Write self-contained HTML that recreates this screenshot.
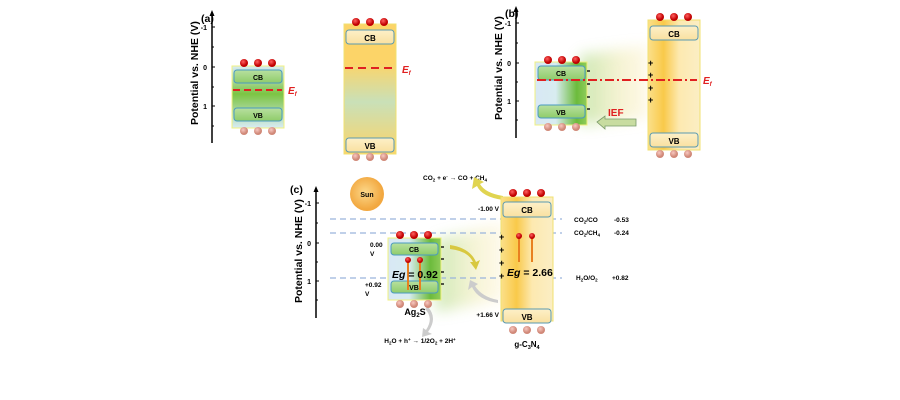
<!DOCTYPE html>
<html><head><meta charset="utf-8"><style>
html,body{margin:0;padding:0;background:#fff;width:900px;height:400px;overflow:hidden}
svg text{font-family:"Liberation Sans",Arial,sans-serif;font-weight:bold}
</style></head><body>
<svg width="900" height="400" viewBox="0 0 900 400" xmlns="http://www.w3.org/2000/svg">
<defs>
<filter id="blur" x="-30%" y="-30%" width="160%" height="160%"><feGaussianBlur stdDeviation="7"/></filter>
<linearGradient id="gA" x1="0" y1="0" x2="0" y2="1">
<stop offset="0" stop-color="#d8ecf5"/><stop offset="0.45" stop-color="#7cc443"/><stop offset="1" stop-color="#d8ecf5"/></linearGradient>
<linearGradient id="yA" x1="0" y1="0" x2="0" y2="1">
<stop offset="0" stop-color="#fcd468"/><stop offset="0.3" stop-color="#fcd468"/><stop offset="0.6" stop-color="#c9e0b8"/><stop offset="1" stop-color="#fcd468"/></linearGradient>
<linearGradient id="gB" x1="0" y1="0" x2="1" y2="0">
<stop offset="0" stop-color="#d8e8f5"/><stop offset="0.4" stop-color="#d8ecf0"/><stop offset="0.8" stop-color="#6cbb3c"/><stop offset="1" stop-color="#8fcc5a"/></linearGradient>
<linearGradient id="yB" x1="0" y1="0" x2="1" y2="0">
<stop offset="0" stop-color="#fbe08a"/><stop offset="0.3" stop-color="#f9c94a"/><stop offset="0.6" stop-color="#fde9b0"/><stop offset="1" stop-color="#fbeec4"/></linearGradient>
<linearGradient id="glow" x1="0" y1="0" x2="1" y2="0">
<stop offset="0" stop-color="#8fcc5a" stop-opacity="0.8"/><stop offset="0.6" stop-color="#e8e08a" stop-opacity="0.6"/><stop offset="1" stop-color="#fbe08a" stop-opacity="0.3"/></linearGradient>
<linearGradient id="cbg" x1="0" y1="0" x2="0" y2="1"><stop offset="0" stop-color="#b8e0a0"/><stop offset="1" stop-color="#8fcc6a"/></linearGradient>
<linearGradient id="cby" x1="0" y1="0" x2="0" y2="1"><stop offset="0" stop-color="#fdf0c8"/><stop offset="1" stop-color="#f9e0a0"/></linearGradient>
<radialGradient id="red" cx="0.4" cy="0.35"><stop offset="0" stop-color="#ff6060"/><stop offset="1" stop-color="#c00000"/></radialGradient>
<radialGradient id="pink" cx="0.4" cy="0.35"><stop offset="0" stop-color="#f8c8c0"/><stop offset="1" stop-color="#d08878"/></radialGradient>
<radialGradient id="sun" cx="0.45" cy="0.45"><stop offset="0" stop-color="#fcd88a"/><stop offset="1" stop-color="#f2a840"/></radialGradient>
</defs>

<!-- Panel a -->
<line x1="212" y1="143" x2="212" y2="14" stroke="#000" stroke-width="1.5"/><polygon points="212,10 209.5,16 214.5,16"/>
<g stroke="#000"><line x1="212" y1="27" x2="215" y2="27"/><line x1="212" y1="47" x2="214" y2="47"/><line x1="212" y1="67" x2="215" y2="67"/><line x1="212" y1="87" x2="214" y2="87"/><line x1="212" y1="106" x2="215" y2="106"/><line x1="212" y1="126" x2="214" y2="126"/></g>
<text x="207" y="30" font-size="7" text-anchor="end">-1</text><text x="207" y="70" font-size="7" text-anchor="end">0</text><text x="207" y="109" font-size="7" text-anchor="end">1</text>
<text transform="translate(198,125) rotate(-90)" font-size="10.5">Potential vs. NHE (V)</text>
<text x="201" y="22" font-size="10.5">(a)</text>
<rect x="232" y="66" width="52" height="62" fill="url(#gA)" stroke="#f0f080" stroke-width="1"/>
<rect x="234" y="70" width="48" height="13" rx="3" fill="url(#cbg)" stroke="#4a9ac0"/><text x="258" y="80" font-size="7" text-anchor="middle">CB</text>
<rect x="234" y="108" width="48" height="13" rx="3" fill="url(#cbg)" stroke="#4a9ac0"/><text x="258" y="118" font-size="7" text-anchor="middle">VB</text>
<line x1="233" y1="90" x2="282" y2="90" stroke="#e02020" stroke-width="2" stroke-dasharray="7,4"/>
<text x="288" y="94" font-size="10" fill="#e02020" font-style="italic">E<tspan font-size="6" dy="2">f</tspan></text>
<g fill="url(#red)"><circle cx="244" cy="63" r="4"/><circle cx="258" cy="63" r="4"/><circle cx="272" cy="63" r="4"/></g>
<g fill="url(#pink)"><circle cx="244" cy="131" r="4"/><circle cx="258" cy="131" r="4"/><circle cx="272" cy="131" r="4"/></g>

<rect x="344" y="24" width="52" height="130" fill="url(#yA)" stroke="#f0e070"/>
<rect x="346" y="30" width="48" height="14" rx="3" fill="url(#cby)" stroke="#5a9ab0"/><text x="370" y="41" font-size="8" text-anchor="middle">CB</text>
<rect x="346" y="138" width="48" height="14" rx="3" fill="url(#cby)" stroke="#5a9ab0"/><text x="370" y="149" font-size="8" text-anchor="middle">VB</text>
<line x1="345" y1="68" x2="395" y2="68" stroke="#e02020" stroke-width="2" stroke-dasharray="8,5"/>
<text x="402" y="73" font-size="10" fill="#e02020" font-style="italic">E<tspan font-size="6" dy="2">f</tspan></text>
<g fill="url(#red)"><circle cx="356" cy="22" r="4"/><circle cx="370" cy="22" r="4"/><circle cx="384" cy="22" r="4"/></g>
<g fill="url(#pink)"><circle cx="356" cy="157" r="4"/><circle cx="370" cy="157" r="4"/><circle cx="384" cy="157" r="4"/></g>

<!-- Panel b -->
<polygon points="580,55 650,45 650,118 580,125" fill="url(#glow)" opacity="0.6" filter="url(#blur)"/>
<line x1="516" y1="138" x2="516" y2="10" stroke="#000" stroke-width="1.5"/><polygon points="516,6 513.5,12 518.5,12"/>
<g stroke="#000"><line x1="516" y1="23" x2="519" y2="23"/><line x1="516" y1="43" x2="518" y2="43"/><line x1="516" y1="63" x2="519" y2="63"/><line x1="516" y1="82" x2="518" y2="82"/><line x1="516" y1="101" x2="519" y2="101"/><line x1="516" y1="120" x2="518" y2="120"/></g>
<text x="511" y="26" font-size="7" text-anchor="end">-1</text><text x="511" y="66" font-size="7" text-anchor="end">0</text><text x="511" y="104" font-size="7" text-anchor="end">1</text>
<text transform="translate(502,120) rotate(-90)" font-size="10.5">Potential vs. NHE (V)</text>
<text x="505" y="17" font-size="10.5">(b)</text>
<rect x="535" y="62" width="52" height="63" fill="url(#gB)" stroke="#f0f080"/>
<rect x="538" y="66" width="47" height="14" rx="3" fill="url(#cbg)" stroke="#4a9ac0"/><text x="561" y="76" font-size="7" text-anchor="middle">CB</text>
<rect x="538" y="105" width="47" height="13" rx="3" fill="url(#cbg)" stroke="#4a9ac0"/><text x="561" y="115" font-size="7" text-anchor="middle">VB</text>
<g fill="url(#red)"><circle cx="548" cy="60" r="4"/><circle cx="562" cy="60" r="4"/><circle cx="576" cy="60" r="4"/></g>
<g fill="url(#pink)"><circle cx="548" cy="127" r="4"/><circle cx="562" cy="127" r="4"/><circle cx="576" cy="127" r="4"/></g>
<g stroke="#000" stroke-width="1.3"><line x1="587" y1="71" x2="590" y2="71"/><line x1="587" y1="84" x2="590" y2="84"/><line x1="587" y1="97" x2="590" y2="97"/><line x1="587" y1="109" x2="590" y2="109"/></g>
<rect x="648" y="20" width="52" height="130" fill="url(#yB)" stroke="#f0e070"/>
<rect x="650" y="26" width="48" height="14" rx="3" fill="url(#cby)" stroke="#5a9ab0"/><text x="674" y="37" font-size="8" text-anchor="middle">CB</text>
<rect x="650" y="133" width="48" height="14" rx="3" fill="url(#cby)" stroke="#5a9ab0"/><text x="674" y="144" font-size="8" text-anchor="middle">VB</text>
<g fill="url(#red)"><circle cx="660" cy="17" r="4"/><circle cx="674" cy="17" r="4"/><circle cx="688" cy="17" r="4"/></g>
<g fill="url(#pink)"><circle cx="660" cy="154" r="4"/><circle cx="674" cy="154" r="4"/><circle cx="688" cy="154" r="4"/></g>
<g font-size="9" font-weight="bold"><text x="648" y="66">+</text><text x="648" y="78">+</text><text x="648" y="91">+</text><text x="648" y="103">+</text></g>
<line x1="537" y1="80" x2="697" y2="80" stroke="#e02020" stroke-width="2" stroke-dasharray="9,3,2,3"/>
<text x="703" y="84" font-size="10" fill="#e02020" font-style="italic">E<tspan font-size="6" dy="2">f</tspan></text>
<text x="608" y="116" font-size="10" fill="#e02020">IEF</text>
<polygon points="597,122 605,116 605,119 636,119 636,126 605,126 605,129" fill="#c8dca0" stroke="#7a9a6a" stroke-width="0.8"/>

<!-- Panel c -->
<polygon points="436,240 505,222 505,300 436,312" fill="url(#glow)" opacity="0.55" filter="url(#blur)"/>
<line x1="316" y1="318" x2="316" y2="190" stroke="#000" stroke-width="1.5"/><polygon points="316,186 313.5,192 318.5,192"/>
<g stroke="#000"><line x1="316" y1="203" x2="319" y2="203"/><line x1="316" y1="223" x2="318" y2="223"/><line x1="316" y1="243" x2="319" y2="243"/><line x1="316" y1="262" x2="318" y2="262"/><line x1="316" y1="281" x2="319" y2="281"/><line x1="316" y1="300" x2="318" y2="300"/></g>
<text x="311" y="206" font-size="7" text-anchor="end">-1</text><text x="311" y="246" font-size="7" text-anchor="end">0</text><text x="311" y="284" font-size="7" text-anchor="end">1</text>
<text transform="translate(302,303) rotate(-90)" font-size="10.5">Potential vs. NHE (V)</text>
<text x="290" y="193" font-size="10.5">(c)</text>
<circle cx="367" cy="194" r="17" fill="url(#sun)"/><text x="367" y="197" font-size="7" text-anchor="middle">Sun</text>
<g stroke="#9ab4dc" stroke-width="1.2" stroke-dasharray="6,4"><line x1="330" y1="219" x2="562" y2="219"/><line x1="330" y1="233" x2="562" y2="233"/><line x1="330" y1="278" x2="562" y2="278"/></g>
<g font-size="6.5">
<text x="574" y="222">CO<tspan font-size="4.5" dy="1.5">2</tspan><tspan dy="-1.5">/CO</tspan></text><text x="614" y="222">-0.53</text>
<text x="574" y="235">CO<tspan font-size="4.5" dy="1.5">2</tspan><tspan dy="-1.5">/CH</tspan><tspan font-size="4.5" dy="1.5">4</tspan></text><text x="614" y="235">-0.24</text>
<text x="576" y="280">H<tspan font-size="4.5" dy="1.5">2</tspan><tspan dy="-1.5">O/O</tspan><tspan font-size="4.5" dy="1.5">2</tspan></text><text x="612" y="280">+0.82</text></g>
<text x="455" y="180" font-size="6.5" text-anchor="middle">CO<tspan font-size="4.5" dy="1.5">2</tspan><tspan dy="-1.5"> + e</tspan><tspan font-size="4.5" dy="-2">-</tspan><tspan dy="2"> → CO + CH</tspan><tspan font-size="4.5" dy="1.5">4</tspan></text>
<text x="420" y="343" font-size="6.5" text-anchor="middle">H<tspan font-size="4.5" dy="1.5">2</tspan><tspan dy="-1.5">O + h</tspan><tspan font-size="4.5" dy="-2">+</tspan><tspan dy="2"> → 1/2O</tspan><tspan font-size="4.5" dy="1.5">2</tspan><tspan dy="-1.5"> + 2H</tspan><tspan font-size="4.5" dy="-2">+</tspan></text>
<!-- curved arrows -->
<path d="M503,200 Q482,197 477,186 L472,189 L474,177 L484,182 L480,184 Q485,193 503,196Z" fill="#e0d450"/>
<path d="M450,245 Q470,248 476,262 L480,260 L476,270 L470,262 L473,262 Q468,251 450,249Z" fill="#d8c840"/>
<path d="M498,303 Q478,300 472,287 L468,290 L470,280 L478,284 L475,286 Q482,297 498,300Z" fill="#cccccc"/>
<path d="M428,307 Q438,318 428,332 L432,334 L422,337 L423,328 L426,330 Q434,318 425,309Z" fill="#cccccc"/>
<rect x="388" y="238" width="53" height="62" fill="url(#gB)" stroke="#f0f080"/>
<rect x="391" y="243" width="47" height="12" rx="3" fill="url(#cbg)" stroke="#4a9ac0"/><text x="414" y="252" font-size="7" text-anchor="middle">CB</text>
<rect x="391" y="281" width="47" height="12" rx="3" fill="url(#cbg)" stroke="#4a9ac0"/><text x="414" y="290" font-size="7" text-anchor="middle">VB</text>
<g fill="url(#red)"><circle cx="400" cy="235" r="4"/><circle cx="414" cy="235" r="4"/><circle cx="428" cy="235" r="4"/></g>
<g fill="url(#pink)"><circle cx="400" cy="304" r="4"/><circle cx="414" cy="304" r="4"/><circle cx="428" cy="304" r="4"/></g>
<g stroke="#e88020" stroke-width="2"><line x1="408" y1="262" x2="408" y2="290"/><line x1="420" y1="262" x2="420" y2="290"/></g>
<g fill="url(#red)"><circle cx="408" cy="260" r="3"/><circle cx="420" cy="260" r="3"/></g>
<g stroke="#000" stroke-width="1.3"><line x1="441" y1="247" x2="444" y2="247"/><line x1="441" y1="259" x2="444" y2="259"/><line x1="441" y1="272" x2="444" y2="272"/><line x1="441" y1="284" x2="444" y2="284"/></g>
<text x="392" y="278" font-size="10.5"><tspan font-style="italic">Eg</tspan> = 0.92</text>
<text x="415" y="315" font-size="9" text-anchor="middle">Ag<tspan font-size="6" dy="2">2</tspan><tspan dy="-2">S</tspan></text>
<text x="370" y="247" font-size="6.5">0.00</text><text x="370" y="256" font-size="6.5">V</text>
<text x="365" y="287" font-size="6.5">+0.92</text><text x="365" y="296" font-size="6.5">V</text>

<rect x="501" y="197" width="52" height="124" fill="url(#yB)" stroke="#f0e070"/>
<rect x="503" y="202" width="48" height="15" rx="3" fill="url(#cby)" stroke="#5a9ab0"/><text x="527" y="213" font-size="8" text-anchor="middle">CB</text>
<rect x="503" y="309" width="48" height="14" rx="3" fill="url(#cby)" stroke="#5a9ab0"/><text x="527" y="320" font-size="8" text-anchor="middle">VB</text>
<g fill="url(#red)"><circle cx="513" cy="193" r="4"/><circle cx="527" cy="193" r="4"/><circle cx="541" cy="193" r="4"/></g>
<g fill="url(#pink)"><circle cx="513" cy="330" r="4"/><circle cx="527" cy="330" r="4"/><circle cx="541" cy="330" r="4"/></g>
<g stroke="#e88020" stroke-width="2"><line x1="519" y1="238" x2="519" y2="262"/><line x1="532" y1="238" x2="532" y2="262"/></g>
<g fill="url(#red)"><circle cx="519" cy="236" r="3"/><circle cx="532" cy="236" r="3"/></g>
<g font-size="9"><text x="499" y="240">+</text><text x="499" y="253">+</text><text x="499" y="266">+</text><text x="499" y="279">+</text></g>
<text x="507" y="276" font-size="10.5"><tspan font-style="italic">Eg</tspan> = 2.66</text>
<text x="527" y="347" font-size="8" text-anchor="middle">g-C<tspan font-size="5.5" dy="2">3</tspan><tspan dy="-2">N</tspan><tspan font-size="5.5" dy="2">4</tspan></text>
<text x="499" y="211" font-size="6.5" text-anchor="end">-1.00 V</text>
<text x="499" y="317" font-size="6.5" text-anchor="end">+1.66 V</text>
</svg>
</body></html>
